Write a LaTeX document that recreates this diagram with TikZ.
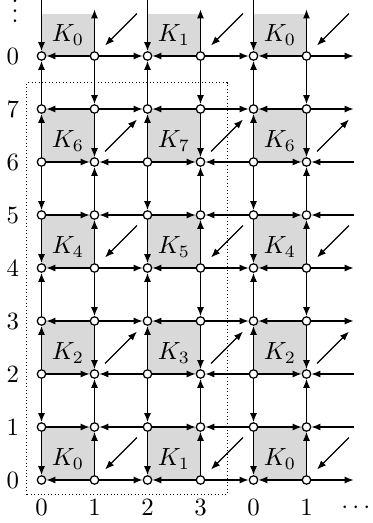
\documentclass[tikz,border=0pt]{standalone}
\usepackage{amsmath,amssymb}
\usepackage{xcolor}
\usepackage{tikz}
\usetikzlibrary{arrows.meta}
\definecolor{C_CELL}{HTML}{D9D9D9}
\newcommand{\vdotsbox}{\vbox{\baselineskip4pt\lineskiplimit0pt
  \hbox{.}\hbox{.}\hbox{.}}}
\tikzset{
  %% -- lattice vertex --
  lat/vtx/.style={
    circle, draw, fill=white, line width=0.5pt,
    inner sep=0pt, minimum size=3.4pt
  },
  %% -- lattice edge --
  lat/arr/.style={-{Latex[length=3.6pt,width=2.8pt]}, line width=0.5pt},
  %% -- diagonal arrow in a white cell --
  lat/diag/.style={-{Latex[length=3.6pt,width=2.8pt]}, line width=0.5pt},
  %% -- shaded cell --
  lat/cell/.style={fill=C_CELL},
  %% -- frame round one period --
  lat/frame/.style={densely dotted, line width=0.4pt},
  %% -- axis label --
  lat/lbl/.style={inner sep=1pt},
}

\begin{document}
\begin{tikzpicture}[x=0.75cm, y=0.75cm]
\useasboundingbox (-0.783,-0.811) rectangle (6.236,9.057);

%% Shaded cells
\foreach \r in {0,2,4,6,8}{
  \foreach \c in {0,2,4}{
    \pgfmathsetmacro{\ch}{\r==8 ? 0.8 : 1}
    \pgfmathtruncatemacro{\kk}{mod(\c/2,2)+2*mod(\r/2,4)}
    \fill[lat/cell] (\c,\r) rectangle ++(1,\ch);
    \node (k-\c-\r) at (\c+0.5,\r+0.4) {$K_{\kk}$};
  }
}

%% Nodes
\foreach \j in {0,...,8}{
  \foreach \i in {0,...,5}{
    \node[lat/vtx] (v-\i-\j) at (\i,\j) {};
  }
}
%% free ends at the top and on the right
\foreach \i in {0,...,5}{
  \pgfmathsetmacro{\ty}{mod(\i,2)==0 ? 9.1 : 8.88}
  \coordinate (te-\i) at (\i,\ty);
}
\foreach \j in {0,...,8}{
  \coordinate (re-\j) at (5.89,\j);
}

%% Horizontal edges
\foreach \j in {0,...,8}{
  \foreach \i in {0,...,5}{
    \pgfmathtruncatemacro{\k}{\i+1}
    \ifnum\i=5 \def\nb{re-\j}\else\def\nb{v-\k-\j}\fi
    \pgfmathtruncatemacro{\flip}{mod(\i+floor((\j+1)/2),2)}
    \ifnum\flip=0
      \draw[lat/arr] (\nb) -- (v-\i-\j);
    \else
      \draw[lat/arr] (v-\i-\j) -- (\nb);
    \fi
  }
}

%% Vertical edges
\foreach \i in {0,...,5}{
  \foreach \j in {0,...,8}{
    \pgfmathtruncatemacro{\k}{\j+1}
    \ifnum\j=8 \def\nb{te-\i}\else\def\nb{v-\i-\k}\fi
    \pgfmathtruncatemacro{\flip}{mod(\i+floor(\j/2),2)}
    \ifnum\flip=1
      \draw[lat/arr] (v-\i-\j) -- (\nb);
    \else
      \draw[lat/arr] (\nb) -- (v-\i-\j);
    \fi
  }
}

%% Diagonal arrows in the white cells
\foreach \r in {0,2,4,6,8}{
  \foreach \c in {1,3,5}{
    \coordinate (d-\c-\r-a) at (\c+0.2,\r+0.2);
    \coordinate (d-\c-\r-b) at (\c+0.8,\r+0.8);
    \pgfmathtruncatemacro{\up}{mod(\r/2,2)}
    \ifnum\up=1
      \draw[lat/diag] (d-\c-\r-a) -- (d-\c-\r-b);
    \else
      \draw[lat/diag] (d-\c-\r-b) -- (d-\c-\r-a);
    \fi
  }
}

%% Dotted frame
\draw[lat/frame] (-0.28,-0.28) rectangle (3.5,7.5);

%% Labels
\foreach \j in {0,...,8}{
  \pgfmathtruncatemacro{\t}{mod(\j,8)}
  \node[lat/lbl] (rl-\j) at (-0.54,\j) {$\t$};
}
\foreach \i in {0,...,5}{
  \pgfmathtruncatemacro{\t}{mod(\i,4)}
  \node[lat/lbl] (cl-\i) at (\i,-0.52) {$\t$};
}
\node[inner sep=0pt, anchor=south] (vd) at (-0.5,8.62) {\vdotsbox};
\node[lat/lbl] (hd) at (5.97,-0.52) {$\cdots$};
\end{tikzpicture}
\end{document}
